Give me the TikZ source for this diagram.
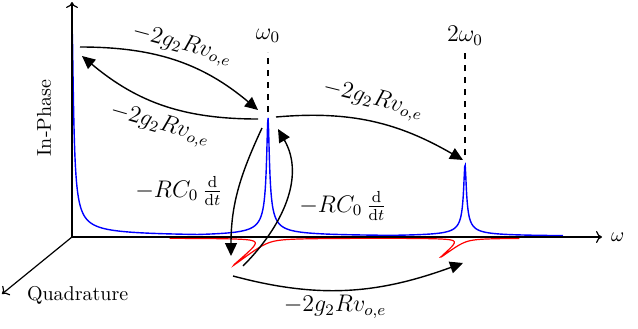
\documentclass[tikz,border=0pt]{standalone}
\usepackage{amsmath}
\usepackage{tikz}
\usetikzlibrary{
  arrows.meta,
  positioning,
  calc
}
\definecolor{inphasecolor}{RGB}{0, 0, 255}
\definecolor{quadcolor}{RGB}{255, 0, 0}
\definecolor{labelcolor}{RGB}{0, 0, 0}
\tikzset{
axisline/.style={
  -{To[length=3pt,width=6pt]},
  line width=0.6pt
},
inphasecurve/.style={
  draw=inphasecolor,
  line width=0.7pt
},
quadcurve/.style={
  draw=quadcolor,
  line width=0.6pt
},
marker/.style={
  dashed,
  line width=0.6pt
},
arrow/.style={
  -{Triangle[length=6.5pt,width=6pt]},
  line width=0.7pt
},
coupling/.style={
  font=\large,
  text=labelcolor
},
axislabel/.style={
  font=\normalsize,
  text=labelcolor
}
}

\begin{document}
\begin{tikzpicture}[x=0.5pt, y=0.5pt,
  declare function={amp(\t,\c)=0.12/sqrt(((\t-\c)/10)^2+0.0144);}]
  \useasboundingbox (0,0) rectangle (638,328);
  % Peak positions
  \def\xA{72}    % zero frequency
  \def\xB{268}   % omega_0
  \def\xC{465}   % 2 omega_0
  \def\yO{91}    % frequency axis

  % Spectra
  % In-phase
  \draw[inphasecurve] plot[domain=\xA:563, samples=1000]
    (\x, {\yO+0.5+max(212*amp(\x,\xA),119*amp(\x,\xB),72*amp(\x,\xC))});
  % Quadrature
  \draw[quadcurve] plot[domain=170:520, samples=800]
    ({\x-0.784*max(44*amp(\x,\xB),31*amp(\x,\xC))},
     {\yO-1-0.621*max(44*amp(\x,\xB),31*amp(\x,\xC))});

  % Axes
  \coordinate (origin) at (\xA,\yO);
  \coordinate (wend) at (602,\yO);
  \coordinate (ipend) at (\xA,326);
  \coordinate (qend) at (2,34);
  \draw[axisline] (origin) -- (wend);
  \draw[axisline] (origin) -- (ipend);
  \draw[axisline] (origin) -- (qend);
  \node[axislabel, right=1pt of wend] (wlabel) {$\omega$};
  \node[axislabel, rotate=90] (iplabel) at (44,210) {In-Phase};
  \node[axislabel, anchor=west] (qlabel) at (20,33) {Quadrature};

  % Frequency markers
  \draw[marker] (\xB,216) -- (\xB,276);
  \draw[marker] (\xC,173) -- (\xC,276);
  \node[coupling] (wB) at (\xB,292) {$\omega_0$};
  \node[coupling] (wC) at (\xC,292) {$2\omega_0$};

  % Arrow end points
  \coordinate (dcout) at (80,281);
  \coordinate (dcin) at (82,272);
  \coordinate (Bin) at (258,218);
  \coordinate (Bleft) at (258,209);
  \coordinate (Bright) at (276,211);
  \coordinate (Cin) at (463,168);
  \coordinate (Bdown) at (262,200);
  \coordinate (Bup) at (278,199);
  \coordinate (qBdown) at (231,72);
  \coordinate (qBup) at (243,62);
  \coordinate (qBright) at (233,52);
  \coordinate (qCin) at (463,65);

  % Couplings
  \draw[arrow] (dcout) to[out=0, in=140] (Bin);
  \draw[arrow] (Bleft) to[out=180, in=-40] (dcin);
  \draw[arrow] (Bright) to[out=5, in=150] (Cin);
  \draw[arrow] (Bdown) to[out=-115, in=90] (qBdown);
  \draw[arrow] (qBup) to[out=45, in=-60] (Bup);
  \draw[arrow] (qBright) to[out=-15, in=-160] (qCin);

  % Coupling labels
  \node[coupling, rotate=-15] (cA) at (182,283) {$-2g_2Rv_{o,e}$};
  \node[coupling, rotate=-16] (cB) at (160,203) {$-2g_2Rv_{o,e}$};
  \node[coupling, rotate=-14] (cC) at (373,228) {$-2g_2Rv_{o,e}$};
  \node[coupling] (cD) at (179,137) {$-RC_0\,\frac{\mathrm{d}}{\mathrm{d}t}$};
  \node[coupling] (cE) at (343,122) {$-RC_0\,\frac{\mathrm{d}}{\mathrm{d}t}$};
  \node[coupling] (cF) at (335,21) {$-2g_2Rv_{o,e}$};
\end{tikzpicture}
\end{document}
